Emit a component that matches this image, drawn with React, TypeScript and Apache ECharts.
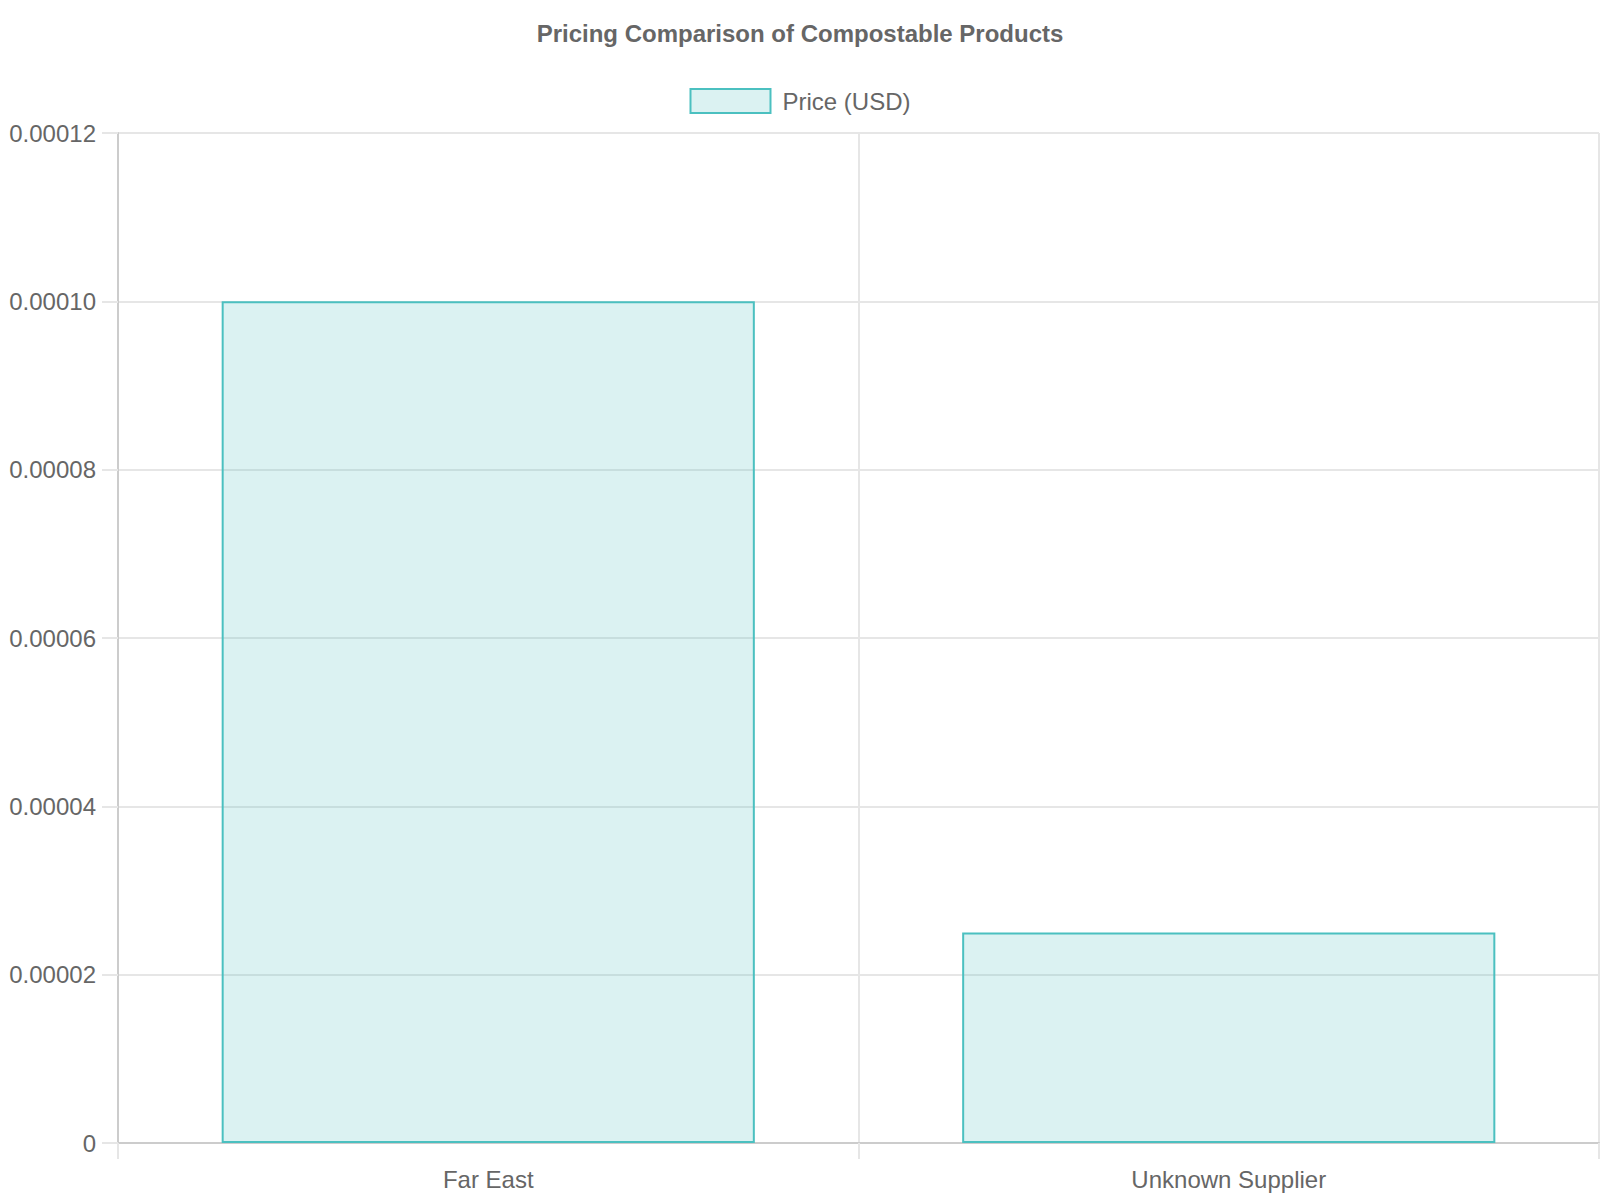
import React, { useEffect, useRef } from "react";
import * as echarts from "echarts";

const categories = ["Far East", "Unknown Supplier"];
const prices = [0.0001, 0.000025];
const seriesName = "Price (USD)";
const titleText = "Pricing Comparison of Compostable Products";

export default function App() {
  const ref = useRef<HTMLDivElement>(null);
  useEffect(() => {
    if (!ref.current) return;
    const chart = echarts.init(ref.current, undefined, { renderer: "svg" });
    const font = "'Liberation Sans', Arial, Helvetica, sans-serif";
    chart.setOption({
      animation: false,
      backgroundColor: "#ffffff",
      title: {
        text: titleText,
        left: "center",
        top: 16,
        textStyle: { fontFamily: font, fontSize: 24, fontWeight: "bold", color: "#666666" },
      },
      legend: {
        top: 83,
        left: "center",
        itemWidth: 80,
        itemHeight: 24,
        itemGap: 20,
        data: [{ name: seriesName, icon: "rect" }],
        itemStyle: { color: "rgba(75,192,192,0.2)", borderColor: "rgb(75,192,192)", borderWidth: 2 },
        textStyle: { fontFamily: font, fontSize: 24, color: "#666666", padding: [0, 0, 0, 7] },
      },
      grid: { left: 118, right: 1, top: 133, bottom: 57, containLabel: false },
      xAxis: {
        type: "category",
        data: categories,
        boundaryGap: true,
        axisLine: { show: true, lineStyle: { color: "#cccccc", width: 2 } },
        axisTick: { show: true, alignWithLabel: false, length: 16, lineStyle: { color: "#e6e6e6", width: 2 } },
        axisLabel: { fontFamily: font, fontSize: 24, color: "#666666", margin: 24 },
        splitLine: { show: true, lineStyle: { color: "#e6e6e6", width: 2 } },
      },
      yAxis: {
        type: "value",
        min: 0,
        max: 0.00012,
        interval: 0.00002,
        axisLine: { show: true, lineStyle: { color: "#cccccc", width: 2 } },
        axisTick: { show: true, length: 16, lineStyle: { color: "#e6e6e6", width: 2 } },
        axisLabel: {
          fontFamily: font,
          fontSize: 24,
          color: "#666666",
          margin: 22,
          formatter: (v: number) => (v === 0 ? "0" : v.toFixed(5)),
        },
        splitLine: { show: true, lineStyle: { color: "#e6e6e6", width: 2 } },
      },
      series: [
        {
          name: seriesName,
          type: "bar",
          data: prices,
          barWidth: "72%",
          itemStyle: { color: "rgba(75,192,192,0.2)", borderColor: "rgb(75,192,192)", borderWidth: 2 },
        },
      ],
    });
    return () => chart.dispose();
  }, []);
  return (
    <div
      ref={ref}
      style={{ position: "absolute", left: 0, top: 0, width: 1600, height: 1200, background: "#fff" }}
    />
  );
}
